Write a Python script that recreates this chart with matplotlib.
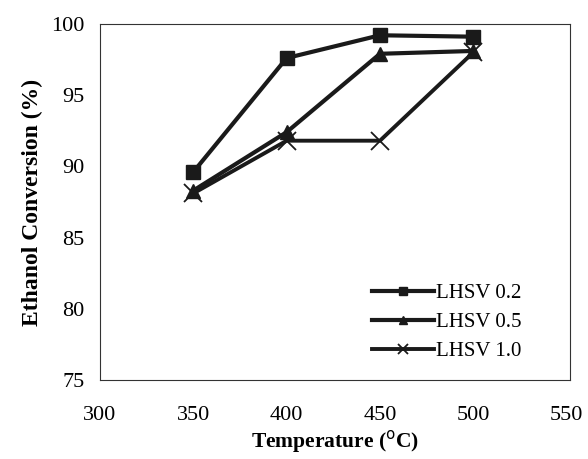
import matplotlib
matplotlib.use("Agg")
import matplotlib.pyplot as plt

plt.rcParams['font.family'] = ['Liberation Serif', 'DejaVu Serif']

temperature = [350, 400, 450, 500]
lhsv_02 = [89.6, 97.6, 99.2, 99.1]
lhsv_05 = [88.3, 92.4, 97.9, 98.1]
lhsv_10 = [88.1, 91.8, 91.8, 98.0]
series_labels = ['LHSV 0.2', 'LHSV 0.5', 'LHSV 1.0']

xticks = [300, 350, 400, 450, 500, 550]
yticks = [75, 80, 85, 90, 95, 100]

fig = plt.figure(figsize=(5.88, 4.59), dpi=100, facecolor='white')
ax = fig.add_axes([0.170, 0.172, 0.800, 0.776])

ax.plot(temperature, lhsv_02, color='#1a1a1a', lw=3, marker='s', ms=10, label=series_labels[0])
ax.plot(temperature, lhsv_05, color='#1a1a1a', lw=3, marker='^', ms=10, label=series_labels[1])
ax.plot(temperature, lhsv_10, color='#1a1a1a', lw=2.8, marker='x', ms=13, mew=1.3, label=series_labels[2])

ax.set_xlim(300, 552)
ax.set_ylim(75, 100)
ax.set_xticks(xticks)
ax.set_yticks(yticks)
ax.tick_params(axis='both', length=0, labelsize=16)
ax.tick_params(axis='x', pad=19)
ax.tick_params(axis='y', pad=11)
for s in ax.spines.values():
    s.set_linewidth(0.8)
    s.set_color('#333333')

ax.set_xlabel('Temperature ($^{\\mathrm{o}}$C)', fontsize=15.5, fontweight='bold', labelpad=2)
ax.set_ylabel('Ethanol Conversion (%)', fontsize=17, fontweight='bold', labelpad=6)

leg = ax.legend(loc='upper left', bbox_to_anchor=(0.578, 0.27), frameon=False, fontsize=15,
                handlelength=3.0, handletextpad=0.1, labelspacing=0.45, markerscale=0.6,
                borderpad=0, borderaxespad=0)

fig.savefig('out.png', dpi=100, facecolor='white')
